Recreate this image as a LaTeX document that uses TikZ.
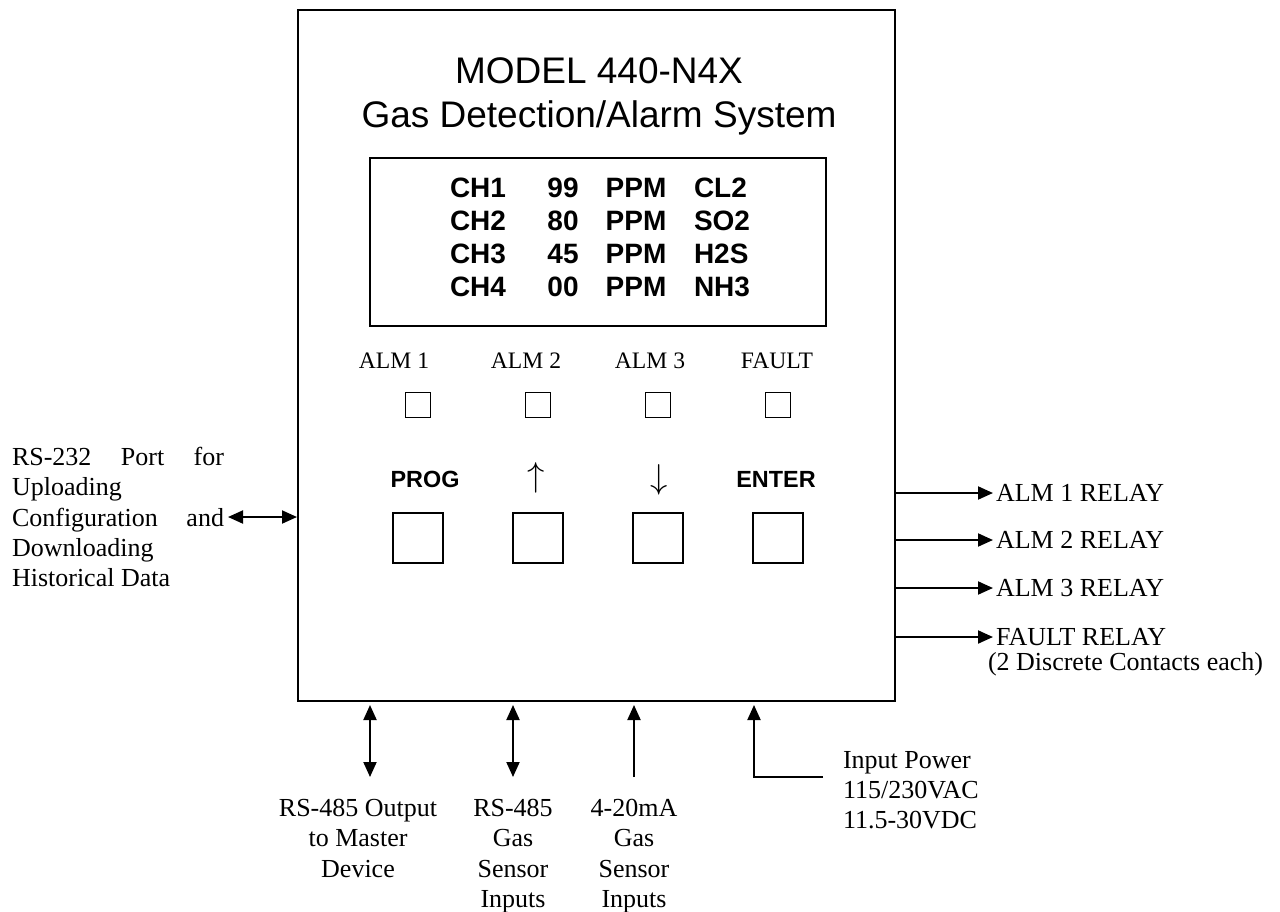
\documentclass[tikz,border=0pt]{standalone}
\usepackage{fontspec}
\setmainfont{Liberation Serif}
\setsansfont{Liberation Sans}
\usetikzlibrary{arrows.meta,positioning}

\begin{document}
\begin{tikzpicture}[x=0.5pt,y=-0.5pt,line width=1pt,
      every node/.style={inner sep=1pt,font=\fontsize{13}{15.2}\selectfont},
      box/.style={draw,line width=1pt,inner sep=0pt},
      led/.style={draw,line width=0.8pt,inner sep=0pt,minimum size=12.5pt},
      keybox/.style={draw,line width=0.9pt,inner sep=0pt,minimum size=25pt},
      lcdtxt/.style={font=\fontsize{14}{16.7}\selectfont\sffamily\bfseries},
      keytxt/.style={font=\fontsize{11.7}{14}\selectfont\sffamily\bfseries},
      ledtxt/.style={font=\fontsize{11.8}{14}\selectfont},
      tip/.tip={Triangle[length=7.5pt,width=6.5pt]},
      wire/.style={line width=1pt,-tip},
      twoway/.style={line width=1pt,tip-tip}]
    \useasboundingbox (0,0) rectangle (1280,911);

    % front panel and display
    \node[box,minimum width=298.5pt,minimum height=345.5pt] (panel) at (596.5,355.5) {};
    \node[font=\fontsize{18.5}{22}\selectfont\sffamily,anchor=base] (model) at (599,83) {MODEL 440-N4X};
    \node[font=\fontsize{18.5}{22}\selectfont\sffamily,anchor=base] (sysname) at (599,127) {Gas Detection/Alarm System};
    \node[box,minimum width=228pt,minimum height=84pt] (lcd) at (598,242) {};
    \foreach \n/\v/\g [count=\r from 0] in {1/99/CL2,2/80/SO2,3/45/H2S,4/00/NH3} {
      \node[lcdtxt,anchor=base west] (ch\n) at (447,{197+\r*33.3}) {CH\n};
      \node[lcdtxt,anchor=base] (val\n) at (563,{197+\r*33.3}) {\v};
      \node[lcdtxt,anchor=base] (ppm\n) at (636,{197+\r*33.3}) {PPM};
      \node[lcdtxt,anchor=base west] (gas\n) at (691,{197+\r*33.3}) {\g};
    }

    % alarm lamps and keys
    \foreach \t/\lx/\x [count=\i] in {ALM 1/394/418,ALM 2/526/538,ALM 3/650/658,FAULT/777/778} {
      \node[ledtxt,anchor=base] (almlbl\i) at (\lx,368) {\t};
      \node[led] (lamp\i) at (\x,405) {};
      \node[keybox] (key\i) at (\x,538) {};
    }
    \node[keytxt] (prog) at (425,479) {PROG};
    \node[font=\fontsize{17}{20}\selectfont] (up) at (536,478) {$\uparrow$};
    \node[font=\fontsize{17}{20}\selectfont] (down) at (659,480) {$\downarrow$};
    \node[keytxt] (enter) at (776,479) {ENTER};

    % serial port on the left
    \node[anchor=north west,align=left] (rs232) at (9,444)
      {\makebox[106pt][s]{RS-232 Port for}\\Uploading\\\makebox[106pt][s]{Configuration and}\\Downloading\\Historical Data};
    \coordinate (rsend) at (228,517);
    \draw[twoway] (rsend) -- (rsend -| panel.west);

    % relay outputs
    \foreach \t/\y [count=\i] in {ALM 1 RELAY/493,ALM 2 RELAY/540,ALM 3 RELAY/588,FAULT RELAY/637} {
      \node[anchor=west] (relay\i) at (993,\y) {\t};
      \draw[wire] (panel.east |- relay\i.west) -- (relay\i.west);
    }
    \node[anchor=west] (contacts) at (985,664) {(2 Discrete Contacts each)};

    % bottom connections
    \node[anchor=north,align=center] (master) at (358,796) {RS-485 Output\\to Master\\Device};
    \node[anchor=north,align=center] (rs485in) at (513,796) {RS-485\\Gas\\Sensor\\Inputs};
    \node[anchor=north,align=center] (mAin) at (634,796) {4-20mA\\Gas\\Sensor\\Inputs};
    \node[anchor=north west,align=left] (power) at (840,748) {Input Power\\115/230VAC\\11.5-30VDC};
    \coordinate (masterport) at (370,705);
    \coordinate (busport) at (513,705);
    \coordinate (loopport) at (634,705);
    \coordinate (powerport) at (754,705);
    \coordinate (powerfeed) at (823,777);
    \draw[twoway] (masterport) -- ++(0,72);
    \draw[twoway] (busport) -- ++(0,72);
    \draw[wire] (loopport |- powerfeed) -- (loopport);
    \draw[wire] (powerfeed) -| (powerport);
  \end{tikzpicture}
\end{document}
